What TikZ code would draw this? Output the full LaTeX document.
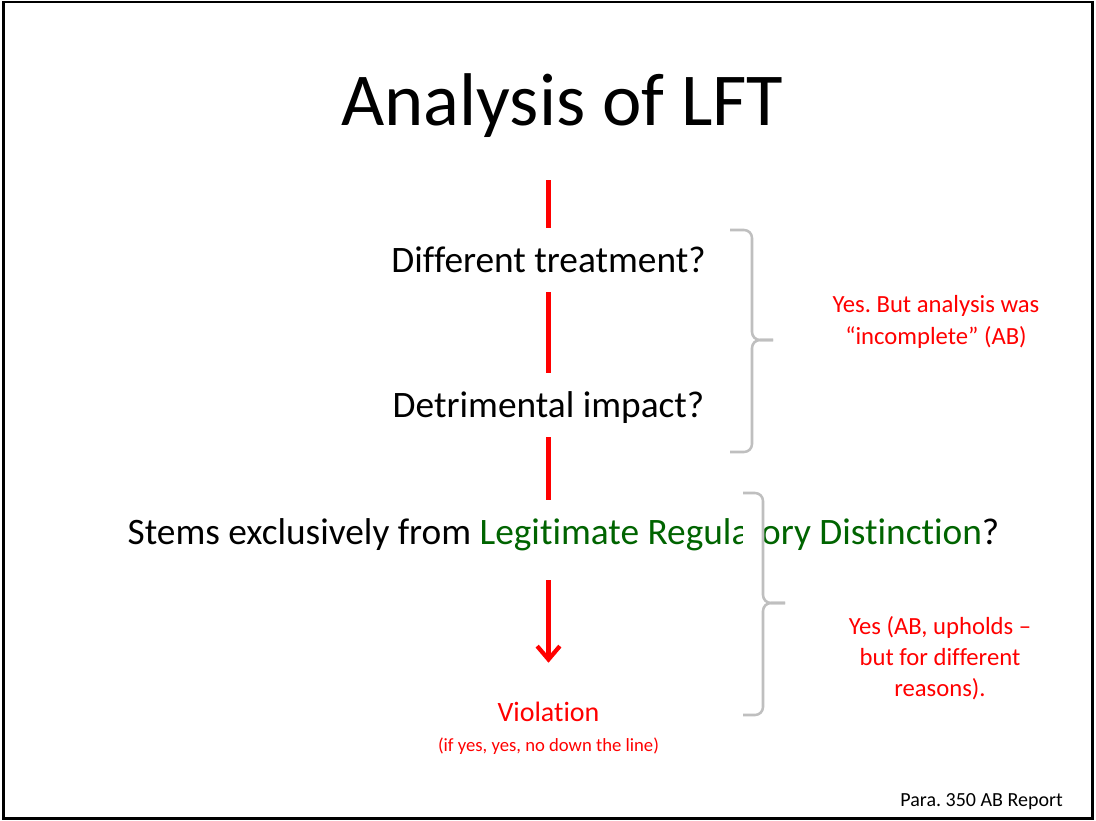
\documentclass[tikz,border=0pt]{standalone}
\usepackage{fontspec}
\setmainfont{Carlito}[Ligatures={TeX,NoCommon}]
\frenchspacing
\usetikzlibrary{arrows.meta}
\definecolor{lftred}{RGB}{255,0,0}
\definecolor{lftgreen}{RGB}{0,100,0}
\definecolor{bracegray}{RGB}{191,191,191}
\begin{document}
\begin{tikzpicture}[x=0.75pt,y=-0.75pt,
    question/.style={font=\fontsize{28}{34}\selectfont,inner sep=0pt,
        text height=33pt,text depth=15pt,anchor=base},
    redline/.style={draw=lftred,line width=3.2pt},
    remark/.style={text=lftred,align=center,font=\fontsize{18.5}{24}\selectfont},
    bracket/.style={draw=bracegray,line width=1.9pt,rounded corners=6pt}]
    \useasboundingbox (0,0) rectangle (1096,821);
    \fill[white] (0,0) rectangle (1096,821);
    \draw[line width=2pt] (3.5,2) rectangle (1092.5,818.5);

    \node[anchor=base,font=\fontsize{56}{60}\selectfont] (title) at (562.5,125)
        {Analysis of LFT};

    % the chain of questions
    \coordinate (start) at (548.5,180);
    \node[question] (diff) at (548.5,272) {Different treatment?};
    \node[question] (detr) at (548.5,417) {Detrimental impact?};
    \node[question] (stems) at (563.5,544)
        {Stems exclusively from \textcolor{lftgreen}{Legitimate Regulatory Distinction}?};
    \node[anchor=base,text=lftred,inner sep=0pt,text height=43.5pt,
        font=\fontsize{21}{25}\selectfont] (viol) at (548.5,721) {Violation};
    \node[anchor=base,text=lftred,font=\fontsize{14}{17}\selectfont] (note)
        at (548.5,751) {(if yes, yes, no down the line)};

    \draw[redline] (start) -- (diff);
    \draw[redline] (diff) -- (detr);
    \draw[redline] (detr) -- (detr |- stems.north);
    \draw[redline,-{Straight Barb[length=10pt,width=17pt]},shorten <=12pt]
        (stems.south -| detr) -- (viol.north);

    % braces with their findings
    \fill[white] (743,493) rectangle (762,715);
    \draw[bracket] (730,230) -| (752,340) -- (773,340);
    \draw[bracket] (773,340) -- (752,340) |- (730,452);
    \draw[bracket] (743,493) -| (763,603) -- (785,603);
    \draw[bracket] (785,603) -- (763,603) |- (743,715);

    \node[remark] (first-finding) at (936,322)
        {Yes. But analysis was\\“incomplete” (AB)};
    \node[remark,font=\fontsize{18.5}{23.25}\selectfont] (second-finding) at (940,658)
        {Yes (AB, upholds –\\but for different\\reasons).};

    \node[anchor=base east,inner sep=0pt,font=\fontsize{15}{18}\selectfont] (source)
        at (1063,806) {Para. 350 AB Report};
\end{tikzpicture}
\end{document}
